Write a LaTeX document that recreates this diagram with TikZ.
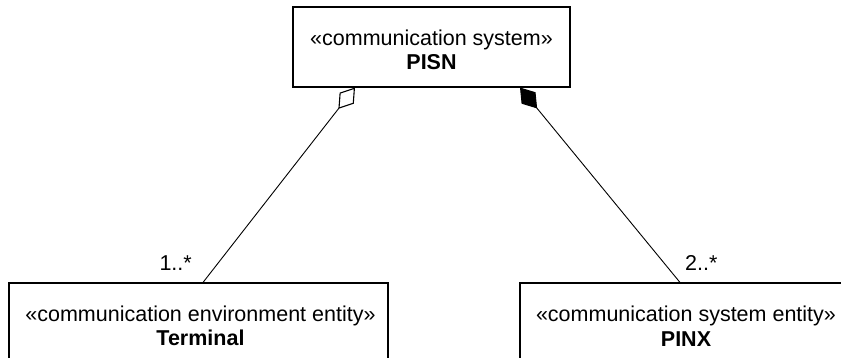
\documentclass[tikz,border=0pt]{standalone}
\usepackage{fontspec}
\setmainfont{Liberation Sans}
\usetikzlibrary{arrows.meta}
\tikzset{
  classbox/.style={draw, line width=1.1pt, inner sep=0pt, minimum height=80pt},
  classtext/.style={align=center, inner sep=0pt, font=\fontsize{21.5}{24.5}\selectfont},
  mult/.style={font=\fontsize{21.5}{26}\selectfont, inner sep=0pt},
  assoc/.style={line width=0.9pt}
}
\begin{document}
\begin{tikzpicture}[x=1pt,y=1pt]
\useasboundingbox (0,0) rectangle (841,358);
\clip (0,0) rectangle (841,358);
\node[classbox, minimum width=277pt] (pisn) at (431.5,311) {};
\node[classbox, minimum width=379pt] (term) at (198.5,35) {};
\node[classbox, minimum width=332pt] (pinx) at (686,35) {};
\node[classtext] (pisnt) at ([yshift=-3pt]pisn.center) {«communication system»\\\textbf{PISN}};
\node[classtext] (termt) at ([yshift=-3pt,xshift=2pt]term.center) {«communication environment entity»\\\textbf{Terminal}};
\node[classtext] (pinxt) at ([yshift=-3pt]pinx.center) {«communication system entity»\\\textbf{PINX}};
\draw[assoc, {Diamond[open,length=27pt,width=18pt,line width=1.1pt]}-] ([xshift=-76.5pt]pisn.south) -- ([xshift=4.5pt]term.north);
\draw[assoc, {Diamond[length=27pt,width=18pt]}-] ([xshift=88.5pt]pisn.south) -- ([xshift=-6pt]pinx.north);
\node[mult, anchor=base east] (m1) at ([xshift=-6.5pt,yshift=12pt]term.north) {1..*};
\node[mult, anchor=base west] (m2) at ([xshift=-1pt,yshift=12pt]pinx.north) {2..*};
\end{tikzpicture}
\end{document}
